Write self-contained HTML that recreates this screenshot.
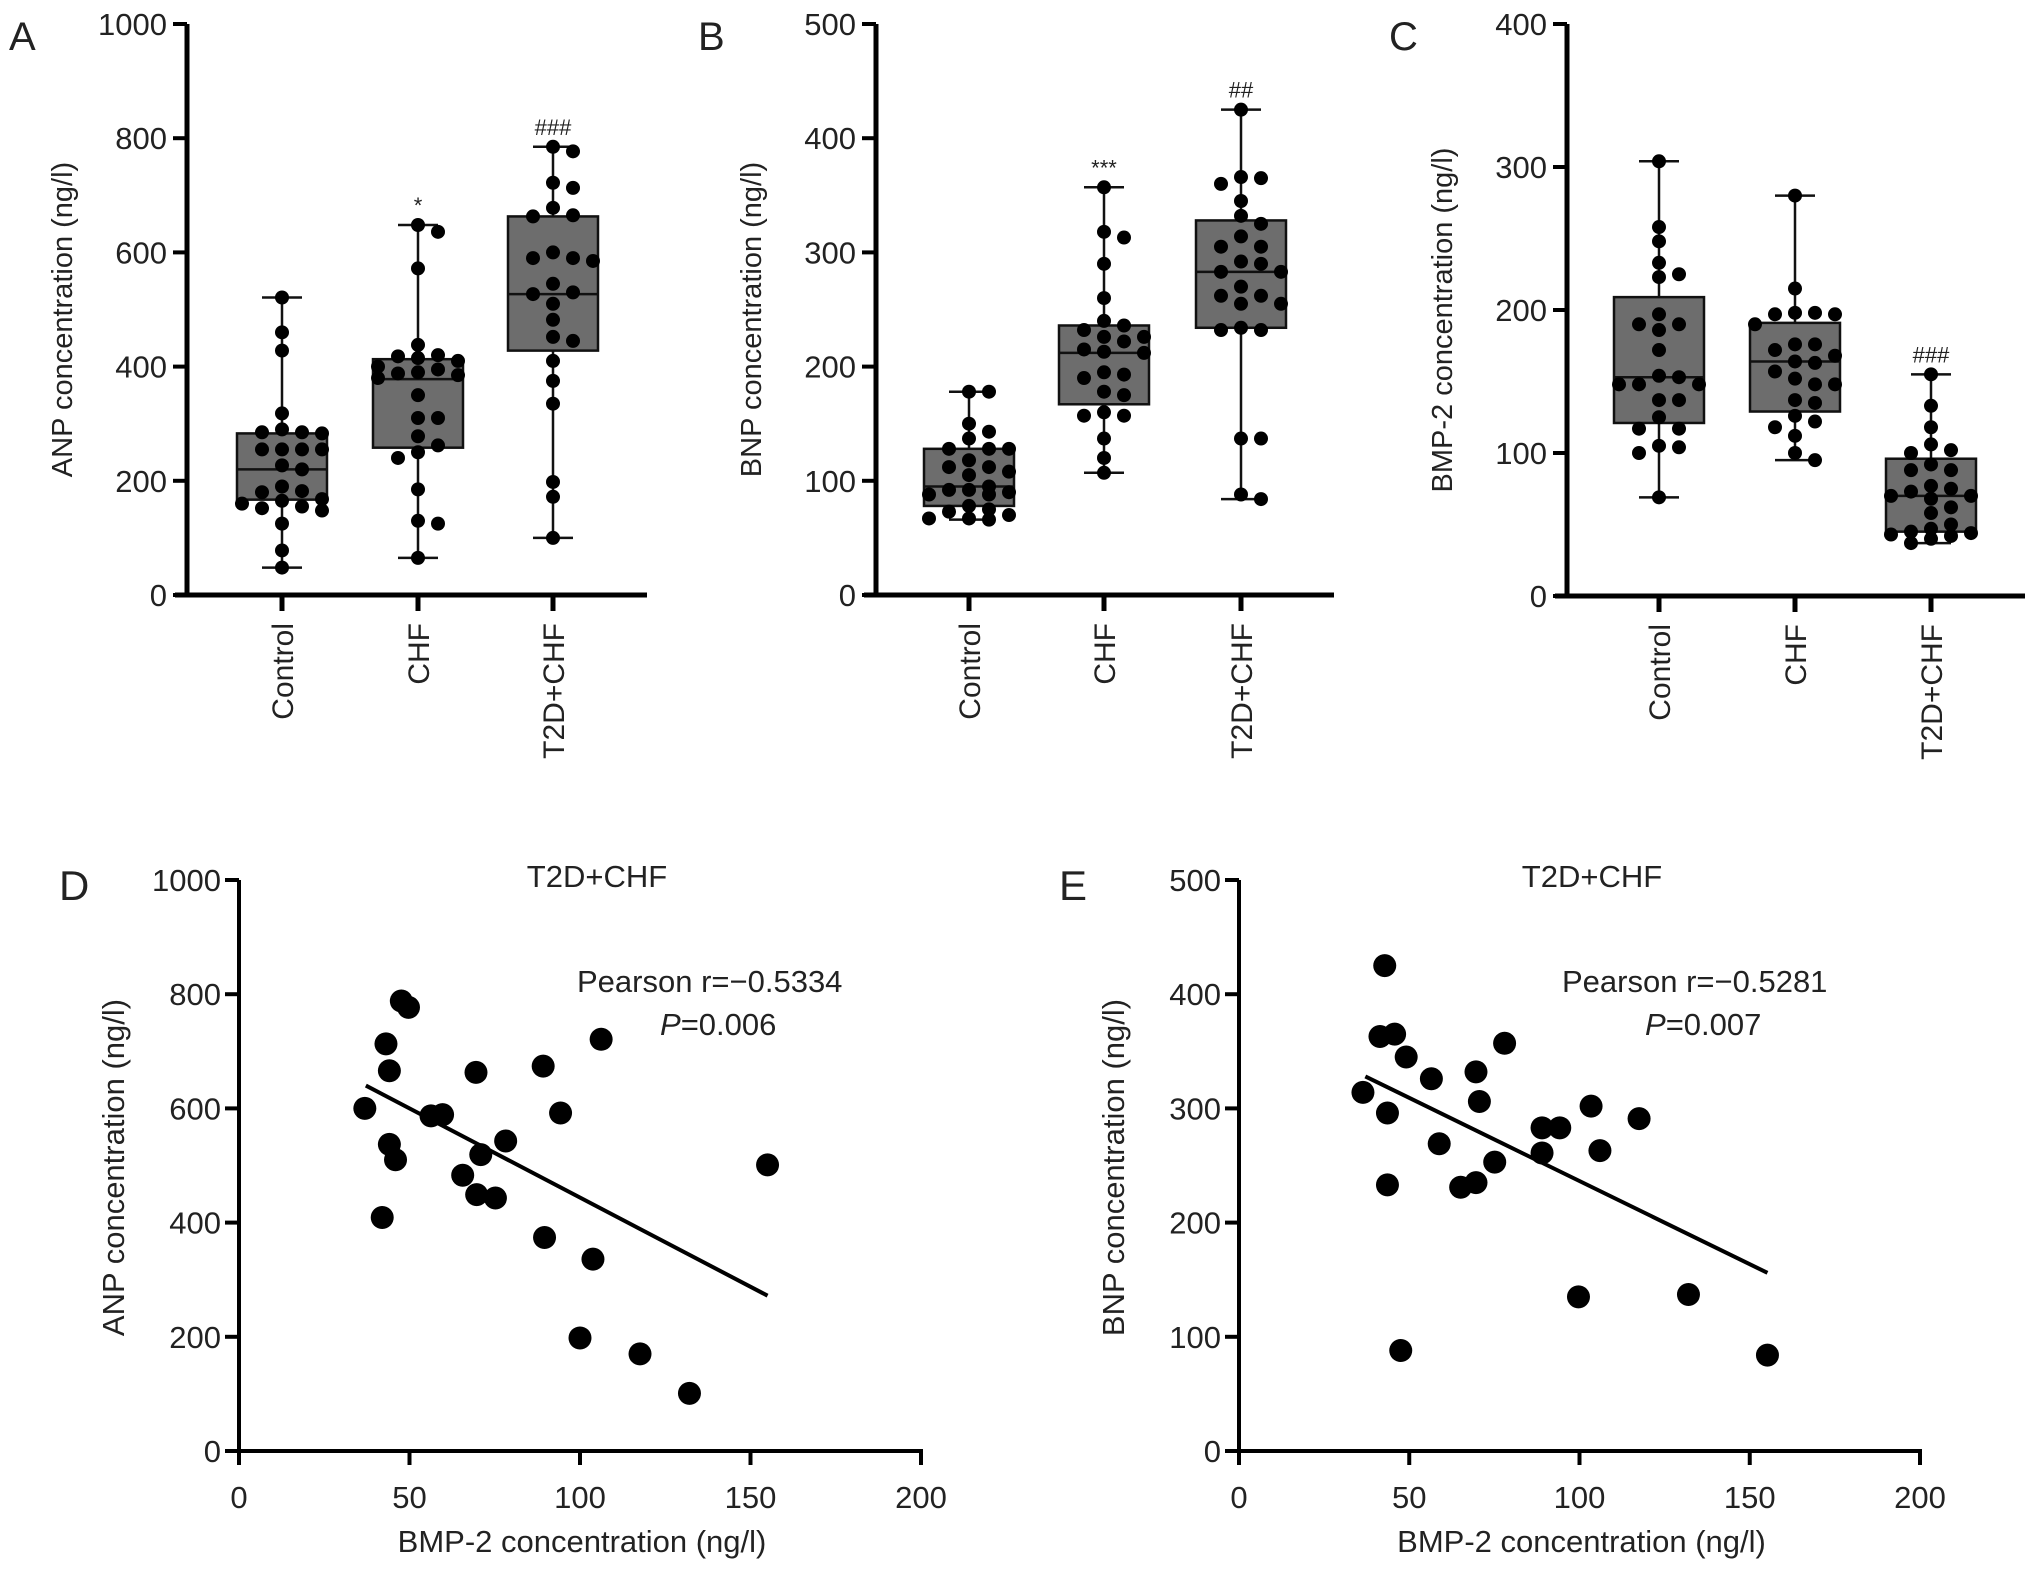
<!DOCTYPE html>
<html><head><meta charset="utf-8"><style>
html,body{margin:0;padding:0;background:#fff}
svg{display:block}
text{font-family:"Liberation Sans",sans-serif;fill:#222}
.n{font-family:"Liberation Sans Narrow","Liberation Sans",sans-serif}
</style></head><body>
<svg id="fig" width="2031" height="1569" viewBox="0 0 2031 1569" xmlns="http://www.w3.org/2000/svg"></svg>
<script>
const groups = ["Control","CHF","T2D+CHF"];
// Panel A (ANP)
const anpControl = [521,460,428,318,290,285,285,283,255,255,255,255,227,220,190,182,180,168,165,160,155,152,148,125,78,48];
const anpCHF = [648,636,572,438,420,418,415,410,400,395,390,388,385,380,350,310,310,278,262,250,240,185,130,125,65];
const anpT2D = [785,777,722,713,678,665,663,600,590,590,585,545,530,527,510,482,452,445,410,375,335,198,172,100];
const anpMin=[48,65,100], anpQ1=[167,258,428], anpMed=[220,378,527], anpQ3=[283,413,663], anpMax=[521,648,785];
const anpSig=["","*","###"];
// Panel B (BNP)
const bnpControl = [178,178,150,143,137,128,128,128,118,112,112,108,105,95,92,92,90,88,88,78,75,73,70,67,66,67];
const bnpCHF = [357,318,313,290,260,240,236,232,226,226,222,215,213,212,195,193,190,178,175,160,157,157,137,120,107];
const bnpT2D = [425,366,365,360,345,332,325,314,305,305,292,290,283,283,270,262,262,255,255,234,232,232,137,137,88,84];
const bnpMin=[66,107,84], bnpQ1=[78,167,234], bnpMed=[95,212,283], bnpQ3=[128,236,328], bnpMax=[178,357,425];
const bnpSig=["","***","##"];
// Panel C (BMP-2)
const bmpControl = [304,258,248,233,225,223,197,190,190,186,172,154,153,148,148,148,137,137,125,117,117,105,104,100,69];
const bmpCHF = [280,215,198,197,197,198,190,176,176,172,168,164,163,157,152,148,148,137,135,126,122,118,112,100,95];
const bmpT2D = [155,133,118,106,102,100,92,88,88,77,75,73,70,70,68,62,58,50,47,45,44,43,42,40,37];
const bmpMin=[69,95,37], bmpQ1=[121,129,45], bmpMed=[153,164,70], bmpQ3=[209,191,96], bmpMax=[304,280,155];
const bmpSig=["","","###"];
// Panel D scatter (BMP-2 vs ANP)
const dX = [36.9,43.1,44.1,47.6,49.7,44.1,45.9,42,56.3,59.7,69.5,70.9,65.6,69.7,75.2,78.2,89.2,94.3,89.6,106.2,103.8,100,117.6,132.1,155];
const dY = [600,713,666,788,777,537,510,409,587,589,663,519,483,449,443,543,674,592,374,721,336,198,170,101,501];
const dFit = [[37.2,640],[155,272]];
// Panel E scatter (BMP-2 vs BNP)
const eX = [42.8,41.4,45.7,49.1,36.4,43.6,56.5,69.6,70.6,78,58.8,43.6,65.1,69.6,75.1,89,94.2,89,103.4,106,117.5,99.7,132,47.5,155.2];
const eY = [425,363,365,345,314,296,326,332,306,357,269,233,231,235,253,283,283,261,302,263,291,135,137,88,84];
const eFit = [[37.1,328],[155.2,156]];

const NS="http://www.w3.org/2000/svg";
const svg=document.getElementById('fig');
function el(tag,attrs,parent,txt){const e=document.createElementNS(NS,tag);for(const k in attrs)e.setAttribute(k,attrs[k]);if(txt!==undefined)e.textContent=txt;(parent||svg).appendChild(e);return e;}

function boxPanel(cfg){
  const g=el('g',{});
  
  
  const ys=v=>cfg.y0-(v/cfg.max)*(cfg.y0-cfg.yTop);
  cfg.data.forEach((vals,i)=>{
    const cx=cfg.cats[i], bw=90, cw=40;
    const bg=el('g',{},g);
    
    
    el('line',{x1:cx,x2:cx,y1:ys(cfg.mx[i]),y2:ys(cfg.mn[i]),stroke:'#111','stroke-width':2.5},bg);
    el('line',{x1:cx-cw/2,x2:cx+cw/2,y1:ys(cfg.mx[i]),y2:ys(cfg.mx[i]),stroke:'#111','stroke-width':2.5},bg);
    el('line',{x1:cx-cw/2,x2:cx+cw/2,y1:ys(cfg.mn[i]),y2:ys(cfg.mn[i]),stroke:'#111','stroke-width':2.5},bg);
    el('rect',{x:cx-bw/2,y:ys(cfg.q3[i]),width:bw,height:ys(cfg.q1[i])-ys(cfg.q3[i]),fill:'#6d6d6d',stroke:'#111','stroke-width':2.5},bg);
    el('line',{x1:cx-bw/2,x2:cx+bw/2,y1:ys(cfg.md[i]),y2:ys(cfg.md[i]),stroke:'#111','stroke-width':2.5},bg);
    const placed=[];
    const sorted=vals.slice().sort((a,b)=>b-a);
    sorted.forEach(v=>{
      const y=ys(v);
      const offs=[0,20,-20,40,-40];
      let best=0,bestD=-1,found=false;
      for(const o of offs){
        let md=Infinity;
        placed.forEach(p=>{md=Math.min(md,Math.hypot(p[0]-o,p[1]-y));});
        if(md>=13){best=o;found=true;break;}
        if(md>bestD){bestD=md;best=o;}
      }
      placed.push([best,y]);
      const c=el('circle',{cx:cx+best,cy:y,r:7,fill:'#000'},bg);
      
      
    });
    if(cfg.sig[i]){
      const t=el('text',{x:cx,y:ys(cfg.mx[i])-12,'text-anchor':'middle','font-size':22},g,cfg.sig[i]);
      
      
    }
  });
  el('line',{x1:cfg.ax,x2:cfg.ax,y1:cfg.yTop,y2:cfg.y0+2,stroke:'#000','stroke-width':5},g);
  el('line',{x1:cfg.ax-12,x2:cfg.xEnd,y1:cfg.y0,y2:cfg.y0,stroke:'#000','stroke-width':5},g);
  for(let v=0;v<=cfg.max;v+=cfg.step){
    el('line',{x1:cfg.ax-14,x2:cfg.ax,y1:ys(v),y2:ys(v),stroke:'#000','stroke-width':4},g);
    const t=el('text',{x:cfg.ax-20,y:ys(v)+11,'text-anchor':'end','font-size':31},g,String(v));
    
    
  }
  cfg.cats.forEach((cx,i)=>{
    el('line',{x1:cx,x2:cx,y1:cfg.y0,y2:cfg.y0+16,stroke:'#000','stroke-width':5},g);
    const t=el('text',{x:0,y:0,'text-anchor':'end','font-size':30,transform:`translate(${cx+11},${cfg.y0+28}) rotate(-90)`},g,groups[i]);
    
    
  });
  const yl=el('text',{x:0,y:0,'text-anchor':'middle','font-size':29,transform:`translate(${cfg.ax-115},${(cfg.y0+cfg.yTop)/2+10}) rotate(-90)`},g,cfg.ylabel);
  
  
  const pl=el('text',{x:cfg.ax-178,y:50,'font-size':40},g,cfg.letter);
  
  
}

boxPanel({name:'panel-a',letter:'A',ax:187,y0:595,yTop:24,max:1000,step:200,cats:[282,418,553],xEnd:647,
  data:[anpControl,anpCHF,anpT2D],mn:anpMin,q1:anpQ1,md:anpMed,q3:anpQ3,mx:anpMax,sig:anpSig,ylabel:'ANP concentration (ng/l)'});
boxPanel({name:'panel-b',letter:'B',ax:876,y0:595,yTop:24,max:500,step:100,cats:[969,1104,1241],xEnd:1334,
  data:[bnpControl,bnpCHF,bnpT2D],mn:bnpMin,q1:bnpQ1,md:bnpMed,q3:bnpQ3,mx:bnpMax,sig:bnpSig,ylabel:'BNP concentration (ng/l)'});
boxPanel({name:'panel-c',letter:'C',ax:1567,y0:596,yTop:24,max:400,step:100,cats:[1659,1795,1931],xEnd:2025,
  data:[bmpControl,bmpCHF,bmpT2D],mn:bmpMin,q1:bmpQ1,md:bmpMed,q3:bmpQ3,mx:bmpMax,sig:bmpSig,ylabel:'BMP-2 concentration (ng/l)'});

function scatterPanel(cfg){
  const g=el('g',{});
  
  
  const xs=v=>cfg.ax+(v/200)*(cfg.x200-cfg.ax);
  const ys=v=>cfg.y0-(v/cfg.max)*(cfg.y0-cfg.yTop);
  cfg.xs.forEach((x,i)=>{
    const c=el('circle',{cx:xs(x),cy:ys(cfg.ys[i]),r:11.5,fill:'#000'},g);
    
    
  });
  const fl=el('line',{x1:xs(cfg.fit[0][0]),y1:ys(cfg.fit[0][1]),x2:xs(cfg.fit[1][0]),y2:ys(cfg.fit[1][1]),stroke:'#000','stroke-width':4},g);
  
  
  el('line',{x1:cfg.ax,x2:cfg.ax,y1:cfg.yTop,y2:cfg.y0+14,stroke:'#000','stroke-width':4},g);
  el('line',{x1:cfg.ax-14,x2:cfg.x200+2,y1:cfg.y0,y2:cfg.y0,stroke:'#000','stroke-width':4},g);
  for(let v=0;v<=cfg.max;v+=cfg.step){
    el('line',{x1:cfg.ax-14,x2:cfg.ax,y1:ys(v),y2:ys(v),stroke:'#000','stroke-width':4},g);
    const t=el('text',{class:'n',x:cfg.ax-18,y:ys(v)+11,'text-anchor':'end','font-size':31},g,String(v));
    
    
  }
  for(let v=0;v<=200;v+=50){
    el('line',{x1:xs(v),x2:xs(v),y1:cfg.y0,y2:cfg.y0+14,stroke:'#000','stroke-width':4},g);
    const t=el('text',{class:'n',x:xs(v),y:cfg.y0+57,'text-anchor':'middle','font-size':31},g,String(v));
    
    
  }
  const xl=el('text',{class:'n',x:(cfg.ax+cfg.x200)/2+2,y:cfg.y0+101,'text-anchor':'middle','font-size':31},g,'BMP-2 concentration (ng/l)');
  
  
  const yl=el('text',{class:'n',x:0,y:0,'text-anchor':'middle','font-size':31,transform:`translate(${cfg.ax-115},${(cfg.y0+cfg.yTop)/2+2}) rotate(-90)`},g,cfg.ylabel);
  
  
  const ti=el('text',{class:'n',x:cfg.titleX,y:887,'text-anchor':'middle','font-size':31},g,'T2D+CHF');
  
  
  const pr=el('text',{class:'n',x:cfg.pearsonX,y:992,'font-size':31},g,cfg.pearson);
  
  
  const pv=el('text',{class:'n',x:cfg.pX,y:1035,'font-size':31},g);
  
  
  el('tspan',{'font-style':'italic'},pv,'P');
  el('tspan',{},pv,cfg.pval);
  const pl=el('text',{class:'n',x:cfg.ax-180,y:900,'font-size':42},g,cfg.letter);
  
  
}
scatterPanel({name:'panel-d',letter:'D',ax:239,x200:921,y0:1451,yTop:880,max:1000,step:200,xs:dX,ys:dY,fit:dFit,
  ylabel:'ANP concentration (ng/l)',titleX:597,pearsonX:577,pX:660,pearson:'Pearson r=\u22120.5334',pval:'=0.006'});
scatterPanel({name:'panel-e',letter:'E',ax:1239,x200:1920,y0:1451,yTop:880,max:500,step:100,xs:eX,ys:eY,fit:eFit,
  ylabel:'BNP concentration (ng/l)',titleX:1592,pearsonX:1562,pX:1645,pearson:'Pearson r=\u22120.5281',pval:'=0.007'});
</script>
</body></html>
